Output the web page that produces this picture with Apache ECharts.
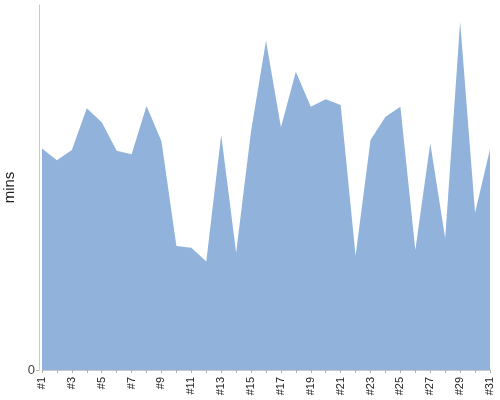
<!DOCTYPE html>
<html>
<head>
<meta charset="utf-8">
<script src="https://cdn.jsdelivr.net/npm/echarts@6/dist/echarts.min.js"></script>
<style>html,body{margin:0;padding:0;background:#fff}#c{width:500px;height:400px}</style>
</head>
<body>
<div id="c"></div>
<script>
var categories = ['#1','#2','#3','#4','#5','#6','#7','#8','#9','#10','#11','#12','#13','#14','#15','#16','#17','#18','#19','#20','#21','#22','#23','#24','#25','#26','#27','#28','#29','#30','#31'];
var minsValues = [60.7,57.5,60.3,71.7,67.9,60.1,59.1,72.3,62.7,34.0,33.5,29.7,64.4,32.1,65.5,90.2,66.5,81.7,72.1,74.2,72.6,31.3,63.0,69.4,72.1,32.9,62.1,36.1,95.4,43.1,60.5];
var yMin = 0;
var yMax = 100;

var chart = echarts.init(document.getElementById('c'), null, {renderer: 'canvas'});
chart.setOption({
  animation: false,
  backgroundColor: '#ffffff',
  grid: {left: 42, right: 10, top: 5, bottom: 30, containLabel: false, outerBoundsMode: 'none'},
  xAxis: {
    type: 'category',
    data: categories,
    boundaryGap: false,
    offset: 3,
    axisLine: {lineStyle: {color: '#c8c8c8', width: 1}},
    axisTick: {show: true, interval: 0, length: 3, lineStyle: {color: '#b0b0b0'}},
    axisLabel: {interval: 1, rotate: 90, margin: 4, color: '#222', fontSize: 11, fontFamily: 'Liberation Sans, Arial, sans-serif'},
    splitLine: {show: false}
  },
  yAxis: {
    type: 'value',
    min: yMin,
    max: yMax,
    interval: 100,
    offset: 3,
    name: 'mins',
    nameLocation: 'middle',
    nameGap: 21,
    nameTextStyle: {color: '#222', fontSize: 15, fontFamily: 'Liberation Sans, Arial, sans-serif'},
    axisLine: {show: true, lineStyle: {color: '#c8c8c8', width: 1}},
    axisTick: {show: true, length: 3, customValues: [0], lineStyle: {color: '#b0b0b0'}},
    axisLabel: {customValues: [0], color: '#444', fontSize: 13, margin: 4, fontFamily: 'Liberation Sans, Arial, sans-serif'},
    splitLine: {show: false}
  },
  series: [{
    type: 'line',
    data: minsValues,
    symbol: 'none',
    lineStyle: {width: 0, color: '#90b2db'},
    itemStyle: {color: '#90b2db'},
    areaStyle: {color: '#90b2db', opacity: 1}
  }]
});
</script>
</body>
</html>
